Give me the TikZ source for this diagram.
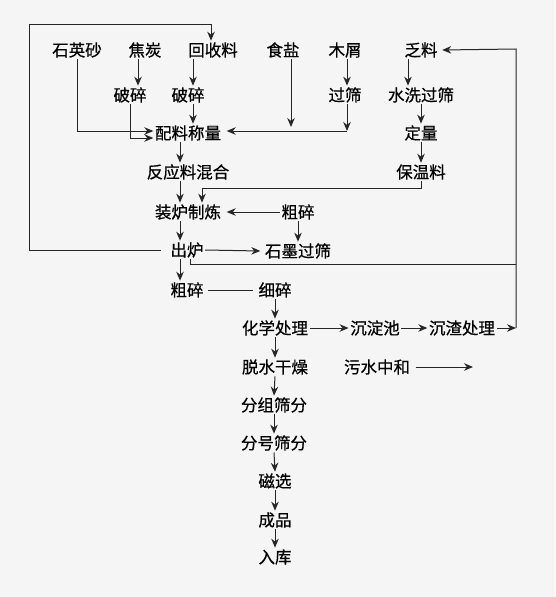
\documentclass[tikz,border=0pt]{standalone}
\usepackage{fontspec}
\setmainfont{Noto Sans CJK SC}
\newfontfamily\stagefont[FakeBold=0.6]{Noto Sans CJK SC}
\usepackage{tikz}
\usetikzlibrary{
		arrows.meta,
		calc
	}
\tikzset{
		>={Stealth[length=9pt,width=7.5pt]},
		stage/.style={inner sep=1.5pt,font=\fontsize{16.5}{18}\stagefont},
		flow/.style={draw=black!85,line width=1pt}
	}
\begin{document}
\begin{tikzpicture}[x=1pt,y=-1pt]
          \useasboundingbox[fill=black!4] (0,0) rectangle (555,597);

          % raw materials
          \node[stage] (ysz)  at (77,50)  {石英砂};
          \node[stage] (jt)   at (145,50) {焦炭};
          \node[stage] (hsl)  at (213,50) {回收料};
          \node[stage] (ys)   at (283,50) {食盐};
          \node[stage] (mx)   at (345,50) {木屑};
          \node[stage] (fl)   at (421,50) {乏料};

          \node[stage] (ps1)  at (130,95)  {破碎};
          \node[stage] (ps2)  at (188,95)  {破碎};
          \node[stage] (gs)   at (345,95)  {过筛};
          \node[stage] (sxgs) at (421,95)  {水洗过筛};
          \node[stage] (plcl) at (188,133) {配料称量};
          \node[stage] (dl)   at (421,133) {定量};
          \node[stage] (fylhh) at (188,172) {反应料混合};
          \node[stage] (bwl)  at (421,172) {保温料};

          % furnace
          \node[stage] (zlzl) at (188,212) {装炉制炼};
          \node[stage] (cs1)  at (298,212) {粗碎};
          \node[stage] (cl)   at (187,250) {出炉};
          \node[stage] (smgs) at (298,251) {石墨过筛};
          \node[stage] (cs2)  at (187,290) {粗碎};
          \node[stage] (xs)   at (275,290) {细碎};

          % treatment
          \node[stage] (hxcl) at (275,328) {化学处理};
          \node[stage] (cdc)  at (375,328) {沉淀池};
          \node[stage] (czcl) at (462,328) {沉渣处理};
          \node[stage] (tsgz) at (275,367) {脱水干燥};
          \node[stage] (wszh) at (377,367) {污水中和};
          \node[stage] (fzsf) at (274,405) {分组筛分};
          \node[stage] (fhsf) at (274,443) {分号筛分};
          \node[stage] (cx)   at (275,481) {磁选};
          \node[stage] (cp)   at (275,520) {成品};
          \node[stage] (rk)   at (275,557) {入库};

          \coordinate (lt) at (29,24);
          \coordinate (rt) at (516,49);
          \coordinate (rm) at (516,264);
          \coordinate (pin) at ([yshift=2pt]plcl.east);
          \coordinate (ysend) at (291,127);
          \coordinate (wsend) at (473,367);

          \draw[flow,->] ([xshift=-7pt]jt.south) -- ([xshift=8pt]ps1.north);
          \draw[flow,->] ([xshift=-20pt]hsl.south) -- ([xshift=5pt]ps2.north);
          \draw[flow,->] ([xshift=5pt]ps2.south) -- ([xshift=5pt]plcl.north);
          \draw[flow,->] (ysz.south) |- ([yshift=2pt]plcl.west);
          \draw[flow,->] (ps1.south) |- ([yshift=-5pt]plcl.west);
          \draw[flow,->] ([xshift=8pt]ys.south) -- (ysend);
          \draw[flow,->] ([xshift=2pt]mx.south) -- ([xshift=2pt]gs.north);
          \draw[flow,->] ([xshift=2pt]gs.south) -- ($(gs.south |- pin)+(2,0)$);
          \draw[flow,->] ($(gs.south |- pin)+(2,0)$) -- ([xshift=4pt]pin);
          \draw[flow,->] ([xshift=-13pt]fl.south) -- ([xshift=-13pt]sxgs.north);
          \draw[flow,->] (sxgs.south) -- (dl.north);
          \draw[flow,->] (dl.south) -- (bwl.north);

          \draw[flow,->] ([xshift=-8pt]plcl.south) -- ([xshift=-8pt]fylhh.north);
          \draw[flow,->] ([xshift=-8pt]fylhh.south) -- ([xshift=-8pt]zlzl.north);
          \draw[flow,->] (bwl.south) -- ++(0,7) -| ([xshift=14pt]zlzl.north);
          \draw[flow,->] (cs1.west) -- ([xshift=4pt]zlzl.east);
          \draw[flow,->] (cs1.south) -- (smgs.north);
          \draw[flow,->] ([xshift=-8pt]zlzl.south) -- ([xshift=-7pt]cl.north);
          \draw[flow,->] (cl.east) -- ([xshift=-3pt]smgs.west);
          \draw[flow,->] ([xshift=-7pt]cl.south) -- ([xshift=-7pt]cs2.north);
          \draw[flow,shorten <=3pt,shorten >=4pt] (cs2.east) -- (xs.west);

          % recycling loops
          \draw[flow,->] ([xshift=-8pt]cl.west) -| (lt) -| ([xshift=-2pt]hsl.north);
          \draw[flow] ([xshift=3pt]cl.south) |- (rm);
          \draw[flow,->] (czcl.east -| rt) -- (rt) -- ([xshift=3pt]fl.east);

          \draw[flow,->] (xs.south) -- (hxcl.north);
          \draw[flow,->] (hxcl.east) -- (cdc.west);
          \draw[flow,->] (cdc.east) -- (czcl.west);
          \draw[flow,->] (czcl.east) -- (czcl.east -| rt);
          \draw[flow,->] (hxcl.south) -- (tsgz.north);
          \draw[flow,->] ([xshift=4pt]wszh.east) -- (wsend);
          \draw[flow,->] (tsgz.south) -- (fzsf.north);
          \draw[flow,->] (fzsf.south) -- (fhsf.north);
          \draw[flow,->] (fhsf.south) -- (cx.north);
          \draw[flow,->] (cx.south) -- (cp.north);
          \draw[flow,->] (cp.south) -- (rk.north);

\end{tikzpicture}
\end{document}
